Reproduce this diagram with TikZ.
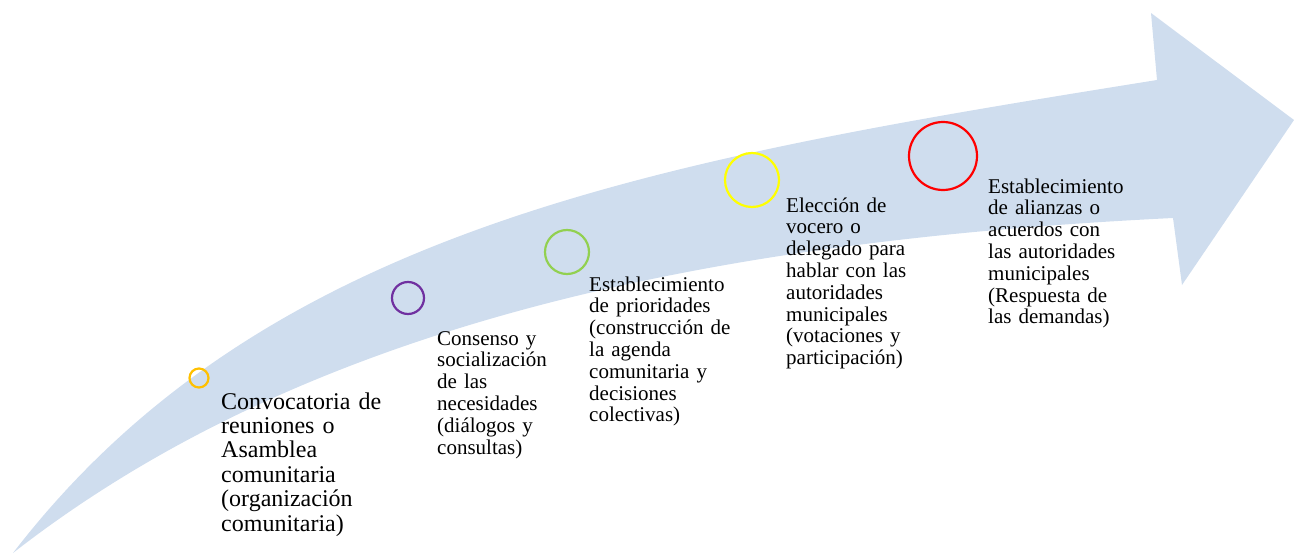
\documentclass[tikz,border=0pt]{standalone}
\usepackage{fontspec}
\setmainfont{Liberation Serif}
\usepackage{tikz}
\definecolor{flecha}{RGB}{207,221,238}
\definecolor{naranja}{RGB}{255,192,0}
\definecolor{morado}{RGB}{112,48,160}
\definecolor{verde}{RGB}{146,208,80}
\definecolor{amarillo}{RGB}{255,255,0}
\definecolor{rojo}{RGB}{255,0,0}
\tikzset{
  paso/.style={anchor=base west, inner sep=0pt, align=left, text width=200pt,
    font=\fontsize{21}{21.8}\selectfont},
  aro/.style={circle, draw=#1, line width=2.2pt, inner sep=0pt}
}
\begin{document}
\begin{tikzpicture}[x=1pt, y=-1pt]

        \useasboundingbox (0, 0) rectangle (1294, 554);

        % flecha
        \fill[flecha] (13, 553) .. controls (263, 228) and (657, 160) .. (1157, 80)
                -- (1151, 13) -- (1294, 120) -- (1182, 285) -- (1173, 218)
                .. controls (723, 240) and (313, 319) .. (13, 553) -- cycle;

        % circulos
        \node[aro=naranja, minimum size=19pt] (c1) at (199, 378) {};
        \node[aro=morado, minimum size=32pt] (c2) at (408, 298) {};
        \node[aro=verde, minimum size=44pt] (c3) at (567, 252) {};
        \node[aro=amarillo, minimum size=54pt] (c4) at (752, 180) {};
        \node[aro=rojo, minimum size=68pt] (c5) at (943, 156) {};

        % textos
        \node[paso, font=\fontsize{24}{24.4}\selectfont] (t1) at (221, 409)
                {Convocatoria de\\reuniones o\\Asamblea\\comunitaria\\(organización\\comunitaria)};
        \node[paso] (t2) at (437, 345)
                {Consenso y\\socialización\\de las\\necesidades\\(diálogos y\\consultas)};
        \node[paso] (t3) at (589, 291)
                {Establecimiento\\de prioridades\\(construcción de\\la agenda\\comunitaria y\\decisiones\\colectivas)};
        \node[paso] (t4) at (786, 212)
                {Elección de\\vocero o\\delegado para\\hablar con las\\autoridades\\municipales\\(votaciones y\\participación)};
        \node[paso] (t5) at (988, 193)
                {Establecimiento\\de alianzas o\\acuerdos con\\las autoridades\\municipales\\(Respuesta de\\las demandas)};

\end{tikzpicture}
\end{document}
